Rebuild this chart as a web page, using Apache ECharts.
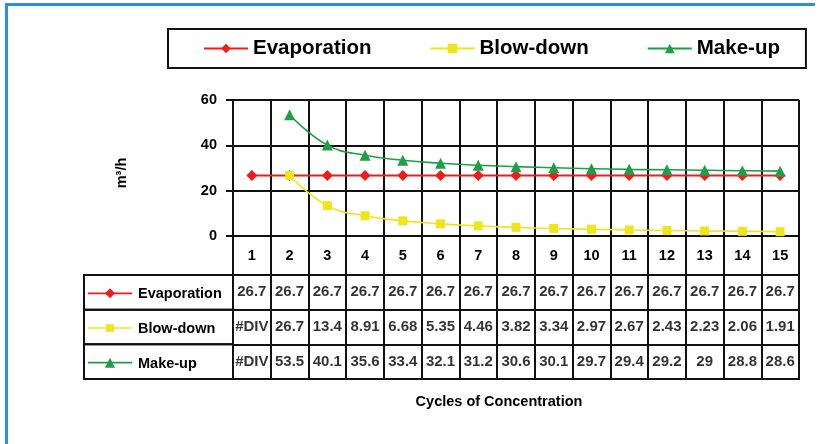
<!DOCTYPE html>
<html>
<head>
<meta charset="utf-8">
<script src="https://cdn.jsdelivr.net/npm/echarts@6/dist/echarts.min.js"></script>
<style>
  html, body { margin: 0; padding: 0; background: #fff; }
  #chart { width: 819px; height: 444px; }
</style>
</head>
<body>
<div id="chart"></div>
<script>
// Cycles of concentration on the category axis
const categories = ['1', '2', '3', '4', '5', '6', '7', '8', '9', '10', '11', '12', '13', '14', '15'];

// Flows in m³/h (null = #DIV, no value at 1 cycle)
const evaporation = [26.7, 26.7, 26.7, 26.7, 26.7, 26.7, 26.7, 26.7, 26.7, 26.7, 26.7, 26.7, 26.7, 26.7, 26.7];
const blowDown = [null, 26.7, 13.4, 8.91, 6.68, 5.35, 4.46, 3.82, 3.34, 2.97, 2.67, 2.43, 2.23, 2.06, 1.91];
const makeUp = [null, 53.5, 40.1, 35.6, 33.4, 32.1, 31.2, 30.6, 30.1, 29.7, 29.4, 29.2, 29, 28.8, 28.6];

// Value axis ticks
const yMin = 0;
const yMax = 60;
const yStep = 20;

const seriesNames = ['Evaporation', 'Blow-down', 'Make-up'];
const seriesColors = ['#f01c1c', '#f0e41c', '#1e9e45'];
const seriesSymbols = ['diamond', 'rect', 'triangle'];
const seriesValues = [evaporation, blowDown, makeUp];

const FONT = '"Liberation Sans", Arial, sans-serif';
const BLACK = '#111';

// Small marker used in the row headers of the data table
function marker(symbol, cx, cy, size, color) {
  const h = size / 2;
  if (symbol === 'rect') {
    return { type: 'rect', shape: { x: cx - h * 0.85, y: cy - h * 0.85, width: size * 0.85, height: size * 0.85 }, style: { fill: color } };
  }
  if (symbol === 'triangle') {
    return { type: 'polygon', shape: { points: [[cx, cy - h], [cx + h, cy + h], [cx - h, cy + h]] }, style: { fill: color } };
  }
  return { type: 'polygon', shape: { points: [[cx, cy - h], [cx + h, cy], [cx, cy + h], [cx - h, cy]] }, style: { fill: color } };
}

// Cells of the data table: [column, row, text]
const tableCells = [];
seriesValues.forEach((vals, r) => {
  vals.forEach((v, i) => {
    tableCells.push([i, r, v == null ? '#DIV' : String(v)]);
  });
});

const lineSeries = seriesNames.map((name, k) => ({
  name: name,
  type: 'line',
  xAxisIndex: 0,
  yAxisIndex: 0,
  data: seriesValues[k],
  smooth: k === 0 ? false : 0.45,
  symbol: seriesSymbols[k],
  symbolSize: k === 1 ? 9 : 11,
  showSymbol: true,
  connectNulls: false,
  lineStyle: { color: seriesColors[k], width: k === 0 ? 2 : 1.6 },
  itemStyle: { color: seriesColors[k] },
  z: 5
}));

const chart = echarts.init(document.getElementById('chart'), null, { renderer: 'canvas' });

chart.setOption({
  animation: false,
  backgroundColor: '#fff',
  textStyle: { fontFamily: FONT },
  legend: {
    data: seriesNames,
    left: 168,
    top: 29,
    padding: [9, 26, 9, 35],
    borderColor: BLACK,
    borderWidth: 2,
    itemWidth: 44,
    itemHeight: 12,
    itemGap: 58,
    textStyle: { fontFamily: FONT, fontWeight: 'bold', fontSize: 20.5, color: '#000' }
  },
  grid: [
    { left: 233, right: 20, top: 100, height: 136, containLabel: false },
    { left: 233, right: 20, top: 275, height: 104, show: true, borderColor: BLACK, borderWidth: 2, backgroundColor: 'transparent' }
  ],
  xAxis: [
    {
      type: 'category',
      gridIndex: 0,
      data: categories,
      boundaryGap: true,
      axisLine: { show: true, lineStyle: { color: BLACK, width: 2 } },
      axisTick: { show: true, interval: 0, length: 39, lineStyle: { color: BLACK, width: 2 } },
      axisLabel: { interval: 0, margin: 12, color: '#000', fontFamily: FONT, fontWeight: 'bold', fontSize: 14.5 },
      splitLine: { show: true, interval: 0, lineStyle: { color: BLACK, width: 2 } }
    },
    {
      type: 'category',
      gridIndex: 1,
      data: categories,
      boundaryGap: true,
      axisLine: { show: true, lineStyle: { color: BLACK, width: 2 } },
      axisTick: { show: false },
      axisLabel: { show: false },
      splitLine: { show: true, interval: 0, lineStyle: { color: BLACK, width: 2 } }
    }
  ],
  yAxis: [
    {
      type: 'value',
      gridIndex: 0,
      min: yMin,
      max: yMax,
      interval: yStep,
      name: 'm³/h',
      nameLocation: 'middle',
      nameRotate: 90,
      nameGap: 104,
      nameTextStyle: { color: '#000', fontFamily: FONT, fontWeight: 'bold', fontSize: 14.5, padding: [0, 10, 0, 0] },
      axisLine: { show: true, lineStyle: { color: BLACK, width: 2 } },
      axisTick: { show: true, length: 7, lineStyle: { color: BLACK, width: 2 } },
      axisLabel: { margin: 16, color: '#000', fontFamily: FONT, fontWeight: 'bold', fontSize: 14.5 },
      splitLine: { show: true, lineStyle: { color: BLACK, width: 2 } }
    },
    {
      type: 'category',
      gridIndex: 1,
      data: seriesNames,
      inverse: true,
      axisLine: { show: true, lineStyle: { color: BLACK, width: 2 } },
      axisTick: { show: false },
      axisLabel: { show: false },
      splitLine: { show: true, interval: 0, lineStyle: { color: BLACK, width: 2 } }
    }
  ],
  series: lineSeries.concat([
    {
      // values written into the table cells
      type: 'scatter',
      xAxisIndex: 1,
      yAxisIndex: 1,
      data: tableCells,
      symbolSize: 1,
      itemStyle: { color: 'rgba(0,0,0,0)' },
      label: {
        show: true,
        position: 'inside',
        formatter: p => p.value[2],
        color: '#000',
        fontFamily: FONT,
        fontWeight: 'bold',
        fontSize: 15
      },
      silent: true,
      z: 6
    },
    {
      // row headers of the table: box, legend key and series name
      type: 'custom',
      xAxisIndex: 1,
      yAxisIndex: 1,
      data: seriesNames.map((n, r) => [0, r]),
      encode: { x: 0, y: 1 },
      clip: false,
      silent: true,
      renderItem: function (params, api) {
        const r = api.value(1);
        const cs = params.coordSys;
        const cy = api.coord([0, r])[1];
        const bh = api.size([0, 1])[1];
        const headW = 149;
        const x0 = cs.x - headW;
        const color = seriesColors[r];
        const keyX0 = x0 + 4;
        const keyX1 = x0 + 48;
        return {
          type: 'group',
          children: [
            { type: 'rect', shape: { x: x0, y: cy - bh / 2, width: headW, height: bh },
              style: { fill: 'none', stroke: BLACK, lineWidth: 2 } },
            { type: 'line', shape: { x1: keyX0, y1: cy + 1, x2: keyX1, y2: cy + 1 },
              style: { stroke: color, lineWidth: 1.6 } },
            marker(seriesSymbols[r], (keyX0 + keyX1) / 2, cy + 1, r === 1 ? 9 : 10, color),
            { type: 'text', x: x0 + 54, y: cy + 2,
              style: { text: seriesNames[r], fill: '#000', font: 'bold 14.5px ' + FONT, verticalAlign: 'middle', align: 'left' } }
          ]
        };
      },
      z: 6
    }
  ]),
  graphic: [
    { type: 'rect', shape: { x: 5, y: 3, width: 810, height: 3 }, style: { fill: '#2e8fd6' }, silent: true },
    { type: 'rect', shape: { x: 5, y: 3, width: 3, height: 441 }, style: { fill: '#2e8fd6' }, silent: true },
    { type: 'text', x: 499, y: 402, silent: true,
      style: { text: 'Cycles of Concentration', fill: '#000', font: 'bold 14.5px ' + FONT, align: 'center', verticalAlign: 'middle' } }
  ]
});
</script>
</body>
</html>
